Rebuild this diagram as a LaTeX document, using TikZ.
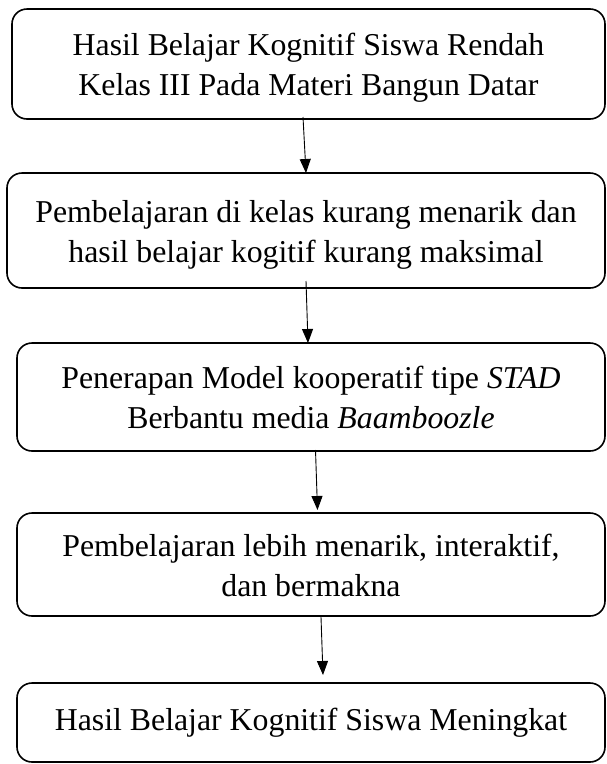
\documentclass[tikz,border=0pt]{standalone}
\usepackage{fontspec}
\setmainfont{Liberation Serif}
\usetikzlibrary{arrows.meta,calc}
\newcommand\mytopstrut{\rule{0pt}{30pt}}
\newcommand\mybotstrut{\rule[-7pt]{0pt}{7pt}}
\tikzset{
  flowbox/.style={draw=black, line width=1.6pt, rounded corners=15pt, rectangle,
    inner sep=0pt, outer sep=0pt, align=center,
    font=\fontsize{31.8pt}{40pt}\selectfont},
  arr/.style={line width=0.9pt, -{Triangle[length=14pt,width=11pt]}}
}
\begin{document}
\begin{tikzpicture}[x=1pt,y=1pt]
\useasboundingbox (0,0) rectangle (607,-764);
\node[flowbox, minimum width=593pt, minimum height=110pt] (b1) at (308.5,-64)
  {\mytopstrut Hasil Belajar Kognitif Siswa Rendah\\Kelas III Pada Materi Bangun Datar\mybotstrut};
\node[flowbox, minimum width=598pt, minimum height=115pt] (b2) at (306,-230.5)
  {\mytopstrut Pembelajaran di kelas kurang menarik dan\\hasil belajar kogitif kurang maksimal\mybotstrut};
\node[flowbox, minimum width=588pt, minimum height=108pt] (b3) at (311,-397)
  {\mytopstrut Penerapan Model kooperatif tipe \textit{STAD}\\Berbantu media \textit{Baamboozle}\mybotstrut};
\node[flowbox, minimum width=588pt, minimum height=103pt] (b4) at (311,-564.5)
  {\mytopstrut Pembelajaran lebih menarik, interaktif,\\dan bermakna\mybotstrut};
\node[flowbox, minimum width=588pt, minimum height=79pt] (b5) at (311,-722.5)
  {Hasil Belajar Kognitif Siswa Meningkat};
\draw[arr] ([shift={(-5.5,2)}]b1.south) -- ([shift={(0,0)}]b2.north);
\draw[arr] ([shift={(0,7)}]b2.south) -- ([shift={(-3,0)}]b3.north);
\draw[arr] ([shift={(4.5,1)}]b3.south) -- ([shift={(6.5,3)}]b4.north);
\draw[arr] ([shift={(10,-1)}]b4.south) -- ([shift={(12,8)}]b5.north);
\end{tikzpicture}
\end{document}
